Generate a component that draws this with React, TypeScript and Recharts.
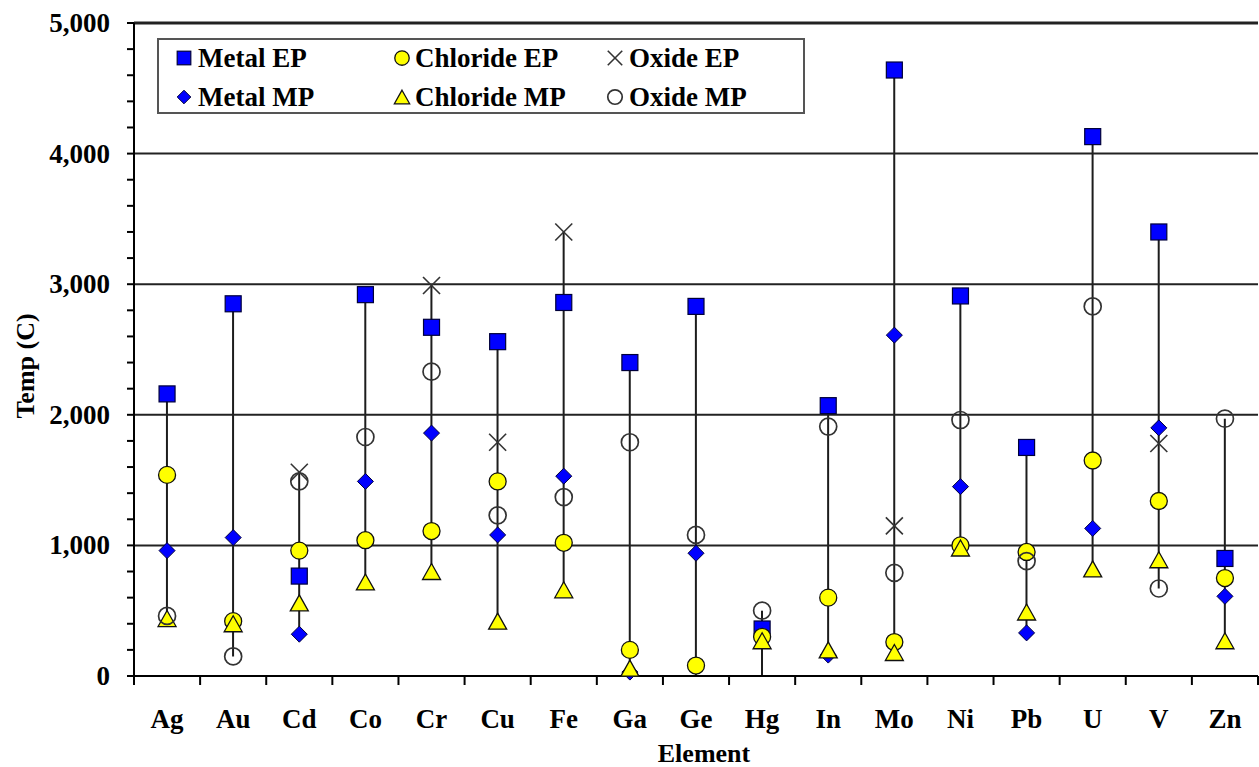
import React from 'react';
import { ComposedChart, Bar, Line, XAxis, YAxis, ReferenceLine, Legend, Label } from 'recharts';

// Elements along the category axis
const elements = ['Ag', 'Au', 'Cd', 'Co', 'Cr', 'Cu', 'Fe', 'Ga', 'Ge', 'Hg', 'In', 'Mo', 'Ni', 'Pb', 'U', 'V', 'Zn'];

// Temperatures in °C (null = no value for that compound)
const metalEP = [2160, 2850, 765, 2920, 2670, 2560, 2860, 2400, 2830, 360, 2070, 4640, 2910, 1750, 4130, 3400, 900];
const metalMP = [960, 1060, 320, 1490, 1860, 1080, 1530, 30, 940, -39, 160, 2610, 1450, 330, 1130, 1900, 610];
const chlorideEP = [1540, 420, 960, 1040, 1110, 1490, 1020, 200, 80, 300, 600, 260, 1000, 950, 1650, 1340, 750];
const chlorideMP = [440, 400, 560, 720, 800, 420, 660, 60, -50, 270, 200, 180, 980, 490, 820, 890, 270];
const oxideEP = [null, null, 1560, null, 2990, 1790, 3400, null, null, null, null, 1150, null, null, null, 1780, null];
const oxideMP = [460, 150, 1490, 1830, 2330, 1230, 1370, 1790, 1080, 500, 1910, 790, 1960, 880, 2830, 670, 1970];

// Axis ticks: every 200 gets a tick mark, every 1000 a label and a grid line
const yTicks = [0, 200, 400, 600, 800, 1000, 1200, 1400, 1600, 1800, 2000, 2200, 2400, 2600, 2800, 3000,
  3200, 3400, 3600, 3800, 4000, 4200, 4400, 4600, 4800, 5000];
const yLabelTicks = [0, 1000, 2000, 3000, 4000, 5000];
const gridValues = [1000, 2000, 3000, 4000, 5000];

type Kind = 'square' | 'diamond' | 'circle' | 'triangle' | 'cross' | 'ring';

const seriesDefs: { key: string; name: string; kind: Kind; values: (number | null)[] }[] = [
  { key: 'metalEP', name: 'Metal EP', kind: 'square', values: metalEP },
  { key: 'metalMP', name: 'Metal MP', kind: 'diamond', values: metalMP },
  { key: 'chlorideEP', name: 'Chloride EP', kind: 'circle', values: chlorideEP },
  { key: 'chlorideMP', name: 'Chloride MP', kind: 'triangle', values: chlorideMP },
  { key: 'oxideEP', name: 'Oxide EP', kind: 'cross', values: oxideEP },
  { key: 'oxideMP', name: 'Oxide MP', kind: 'ring', values: oxideMP },
];

// Legend layout: three columns, two rows
const legendRows = [
  ['metalEP', 'chlorideEP', 'oxideEP'],
  ['metalMP', 'chlorideMP', 'oxideMP'],
];

// One row per element; points below 0 °C lie under the axis and are not drawn.
// `span` is the high-low stem from the lowest shown value to the highest.
const tableData = elements.map((el, i) => {
  const row: any = { element: el };
  const vals: number[] = [];
  seriesDefs.forEach((s) => {
    const v = s.values[i];
    row[s.key] = v != null && v >= 0 ? v : null;
    if (v != null) vals.push(v);
  });
  row.span = [Math.max(0, Math.min(...vals)), Math.max(...vals)];
  return row;
});

const FONT = '"Liberation Serif", "Times New Roman", serif';

function Marker({ kind, cx, cy, scale = 1 }: { kind: Kind; cx: number; cy: number; scale?: number }) {
  switch (kind) {
    case 'square': {
      const s = 16 * scale;
      return <rect x={cx - s / 2} y={cy - s / 2} width={s} height={s} fill="#0000ff" stroke="#00003a" strokeWidth={1.2} />;
    }
    case 'diamond': {
      const r = 8 * scale;
      return (
        <polygon
          points={`${cx},${cy - r} ${cx + r},${cy} ${cx},${cy + r} ${cx - r},${cy}`}
          fill="#0000ff"
          stroke="#00003a"
          strokeWidth={1}
        />
      );
    }
    case 'circle':
      return <circle cx={cx} cy={cy} r={8.5 * scale} fill="#ffff00" stroke="#111" strokeWidth={1.3} />;
    case 'triangle': {
      const w = 18 * scale;
      const h = 16 * scale;
      return (
        <polygon
          points={`${cx},${cy - h / 2} ${cx + w / 2},${cy + h / 2} ${cx - w / 2},${cy + h / 2}`}
          fill="#ffff00"
          stroke="#111"
          strokeWidth={1.3}
        />
      );
    }
    case 'cross': {
      const r = 8.5 * scale;
      return (
        <g stroke="#333" strokeWidth={1.6}>
          <line x1={cx - r} y1={cy - r} x2={cx + r} y2={cy + r} />
          <line x1={cx - r} y1={cy + r} x2={cx + r} y2={cy - r} />
        </g>
      );
    }
    case 'ring':
      return <circle cx={cx} cy={cy} r={8.5 * scale} fill="none" stroke="#333" strokeWidth={1.7} />;
    default:
      return null;
  }
}

const makeDot = (key: string, kind: Kind) => (p: any) => {
  const k = `${key}-${p.index}`;
  if (p.cx == null || p.cy == null || p.value == null || Number.isNaN(p.cy)) return <g key={k} />;
  return (
    <g key={k}>
      <Marker kind={kind} cx={p.cx} cy={p.cy} />
    </g>
  );
};

// Thin vertical stem drawn in the middle of the band
const Stem = (p: any) => {
  const { x, y, width, height } = p;
  if (x == null || y == null || height == null) return <g />;
  const cx = x + width / 2;
  return <line x1={cx} x2={cx} y1={y} y2={y + height} stroke="#1c1c1c" strokeWidth={2} />;
};

// Category tick: label centred on the band, tick marks on the band edges
const ElementTick = (p: any) => {
  const { x, y, payload } = p;
  const half = payload && payload.offset ? payload.offset : 33;
  const isLast = payload && payload.value === elements[elements.length - 1];
  return (
    <g>
      <line x1={x - half} x2={x - half} y1={y} y2={y + 9} stroke="#000" strokeWidth={2} />
      {isLast && <line x1={x + half} x2={x + half} y1={y} y2={y + 9} stroke="#000" strokeWidth={2} />}
      <text x={x} y={y + 52} textAnchor="middle" fontFamily={FONT} fontWeight="bold" fontSize={27} fill="#000">
        {payload.value}
      </text>
    </g>
  );
};

const TempTick = (p: any) => {
  const { x, y, payload } = p;
  if (!yLabelTicks.includes(payload.value)) return <g />;
  return (
    <text x={x} y={y + 9} textAnchor="end" fontFamily={FONT} fontWeight="bold" fontSize={27} fill="#000">
      {Number(payload.value).toLocaleString('en-US')}
    </text>
  );
};

const LegendBox = () => {
  const cols = [
    { mx: 27, tx: 41 },
    { mx: 245, tx: 258 },
    { mx: 458, tx: 472 },
  ];
  const rowsY = [20, 59];
  return (
    <svg width={648} height={76} style={{ display: 'block' }}>
      <rect x={1} y={1} width={646} height={74} fill="#fff" stroke="#555" strokeWidth={2} />
      {legendRows.map((row, ri) =>
        row.map((key, ci) => {
          const s = seriesDefs.find((d) => d.key === key)!;
          const cy = rowsY[ri];
          return (
            <g key={key}>
              <Marker kind={s.kind} cx={cols[ci].mx} cy={cy} scale={0.85} />
              <text x={cols[ci].tx} y={cy + 9} fontFamily={FONT} fontWeight="bold" fontSize={27} fill="#000">
                {s.name}
              </text>
            </g>
          );
        })
      )}
    </svg>
  );
};

export default function App() {
  return (
    <div style={{ position: 'absolute', left: 0, top: 0, width: 1259, height: 767, background: '#fff' }}>
      <ComposedChart
        width={1259}
        height={767}
        data={tableData}
        margin={{ top: 23, right: 1, left: 0, bottom: 0 }}
        barCategoryGap="40%"
      >
        <XAxis
          dataKey="element"
          type="category"
          height={91}
          tickLine={false}
          tickSize={0}
          tickMargin={0}
          axisLine={{ stroke: '#000', strokeWidth: 2 }}
          tick={<ElementTick />}
          interval={0}
        >
          <Label
            content={(props: any) => {
              const vb = props.viewBox || { x: 134, y: 676, width: 1124 };
              return (
                <text
                  x={vb.x + vb.width / 2 + 8}
                  y={vb.y + 86}
                  textAnchor="middle"
                  fontFamily={FONT}
                  fontWeight="bold"
                  fontSize={26}
                  fill="#000"
                >
                  Element
                </text>
              );
            }}
          />
        </XAxis>
        <YAxis
          type="number"
          domain={[0, 5000]}
          ticks={yTicks}
          interval={0}
          width={134}
          tickSize={7}
          tickMargin={17}
          tickLine={{ stroke: '#000', strokeWidth: 2 }}
          axisLine={{ stroke: '#000', strokeWidth: 2 }}
          tick={<TempTick />}
        >
          <Label
            content={() => (
              <text
                x={0}
                y={0}
                transform="translate(34 366) rotate(-90)"
                textAnchor="middle"
                fontFamily={FONT}
                fontWeight="bold"
                fontSize={26}
                fill="#000"
              >
                Temp (C)
              </text>
            )}
          />
        </YAxis>
        {gridValues.map((v) => (
          <ReferenceLine key={v} y={v} stroke="#222" strokeWidth={v === 5000 ? 3 : 2} />
        ))}
        <Legend
          layout="horizontal"
          verticalAlign="middle"
          align="center"
          wrapperStyle={{ left: 157, top: 38, width: 648, height: 76 }}
          content={() => <LegendBox />}
        />
        <Bar dataKey="span" shape={<Stem />} isAnimationActive={false} legendType="none" activeBar={false} />
        {seriesDefs.map((s) => (
          <Line
            key={s.key}
            dataKey={s.key}
            name={s.name}
            stroke="none"
            strokeWidth={0}
            dot={makeDot(s.key, s.kind)}
            activeDot={false}
            isAnimationActive={false}
            legendType="none"
          />
        ))}
      </ComposedChart>
    </div>
  );
}
